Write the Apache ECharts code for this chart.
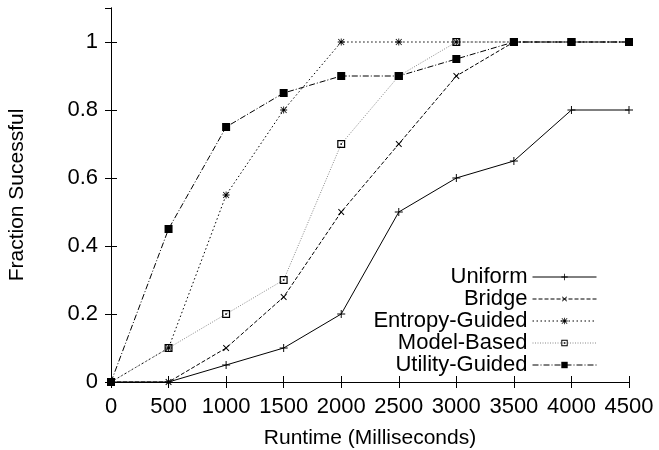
<!DOCTYPE html>
<html>
<head>
<meta charset="utf-8">
<script src="https://cdn.jsdelivr.net/npm/echarts@6/dist/echarts.min.js"></script>
<style>html,body{margin:0;padding:0;background:#fff;}#c{width:659px;height:450px;}</style>
</head>
<body>
<div id="c"></div>
<script>
var runtimes = [0, 500, 1000, 1500, 2000, 2500, 3000, 3500, 4000, 4500];
var xTicks = [0, 500, 1000, 1500, 2000, 2500, 3000, 3500, 4000, 4500];
var yTicks = [0, 0.2, 0.4, 0.6, 0.8, 1];
var uniform = [0, 0, 0.05, 0.1, 0.2, 0.5, 0.6, 0.65, 0.8, 0.8];
var bridge = [0, 0, 0.1, 0.25, 0.5, 0.7, 0.9, 1, 1, 1];
var entropyGuided = [0, 0.1, 0.55, 0.8, 1, 1, 1, 1, 1, 1];
var modelBased = [0, 0.1, 0.2, 0.3, 0.7, 0.9, 1, 1, 1, 1];
var utilityGuided = [0, 0.45, 0.75, 0.85, 0.9, 0.9, 0.95, 1, 1, 1];
var seriesNames = ['Uniform', 'Bridge', 'Entropy-Guided', 'Model-Based', 'Utility-Guided'];

var FONT = '"Liberation Sans", Arial, Helvetica, sans-serif';
var PLUS = 'path://M4.4,0H5.6V4.4H10V5.6H5.6V10H4.4V5.6H0V4.4H4.4Z';
var STAR = 'path://M4.4,0H5.6V4.4H10V5.6H5.6V10H4.4V5.6H0V4.4H4.4Z M1.2,0.4L5,4.2L8.8,0.4L9.6,1.2L5.8,5L9.6,8.8L8.8,9.6L5,5.8L1.2,9.6L0.4,8.8L4.2,5L0.4,1.2Z';
var BOXDOT = 'path://M0,0H10V10H0Z M1.5,1.5V8.5H8.5V1.5Z M4,4H6V6H4Z';

function pairs(vals) { return runtimes.map(function (x, i) { return [x, vals[i]]; }); }

function mk(name, vals, symbol, size, rotate, lineType, lineColor) {
  return {
    name: name, type: 'line', data: pairs(vals),
    symbol: symbol, symbolSize: size, symbolRotate: rotate || 0, showAllSymbol: true,
    lineStyle: { color: lineColor || '#000', width: 1, type: lineType },
    itemStyle: { color: '#000', borderWidth: 0 },
    emphasis: { disabled: true }, animation: false
  };
}

var chart = echarts.init(document.getElementById('c'), null, { renderer: 'canvas' });
var axisCommon = {
  type: 'value',
  axisLine: { show: true, lineStyle: { color: '#000', width: 1 } },
  axisTick: { show: true, inside: true, length: 6, lineStyle: { color: '#000' } },
  splitLine: { show: false }
};
chart.setOption({
  backgroundColor: '#fff',
  animation: false,
  grid: { left: 111, right: 30, top: 8, bottom: 68, containLabel: false, outerBoundsMode: 'none' },
  xAxis: [
    Object.assign({}, axisCommon, {
      min: 0, max: 4500, interval: 500, position: 'bottom',
      name: 'Runtime (Milliseconds)', nameLocation: 'middle', nameGap: 46,
      nameTextStyle: { fontFamily: FONT, fontSize: 21, color: '#000' },
      axisLabel: { fontFamily: FONT, fontSize: 22, color: '#000', margin: 14,
        formatter: function (v) { return String(v); } }
    }),
    Object.assign({}, axisCommon, {
      min: 0, max: 4500, interval: 500, position: 'top', axisLabel: { show: false }
    })
  ],
  yAxis: [
    Object.assign({}, axisCommon, {
      min: 0, max: 1.1, interval: 0.2, position: 'left',
      name: 'Fraction Sucessful', nameLocation: 'middle', nameGap: 83,
      nameTextStyle: { fontFamily: FONT, fontSize: 21, color: '#000' },
      axisLabel: { fontFamily: FONT, fontSize: 22, color: '#000', margin: 13, showMaxLabel: false,
        formatter: function (v) { return String(Math.round(v * 10) / 10); } }
    }),
    Object.assign({}, axisCommon, {
      min: 0, max: 1.1, interval: 0.2, position: 'right', axisLabel: { show: false }
    })
  ],
  legend: {
    data: seriesNames, orient: 'vertical', align: 'right', right: 57, top: 261,
    itemWidth: 64, itemHeight: 8, itemGap: 0,
    lineStyle: { width: 1 },
    textStyle: { fontFamily: FONT, fontSize: 22, color: '#000', lineHeight: 22 },
    inactiveColor: '#000', selectedMode: false
  },
  series: [
    mk(seriesNames[0], uniform, PLUS, 8, 0, 'solid'),
    mk(seriesNames[1], bridge, PLUS, 8, 45, [4, 2]),
    mk(seriesNames[2], entropyGuided, STAR, 7, 0, [1.5, 2.5]),
    mk(seriesNames[3], modelBased, BOXDOT, 8, 0, [1, 1.5], '#888'),
    mk(seriesNames[4], utilityGuided, 'rect', 8, 0, [6, 2, 1, 2])
  ]
});
</script>
</body>
</html>
